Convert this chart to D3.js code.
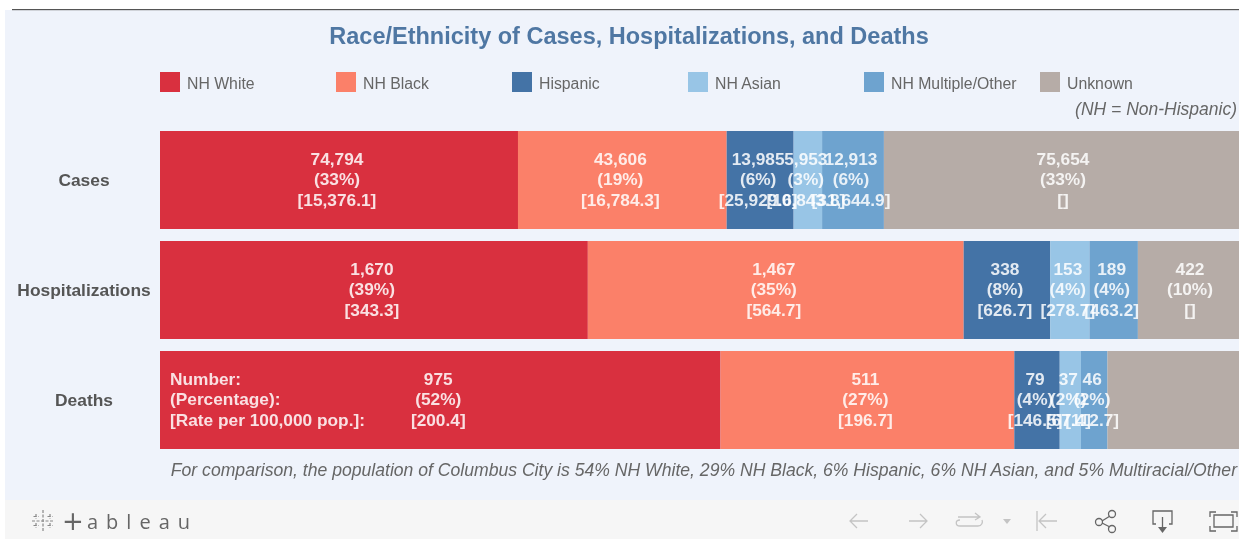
<!DOCTYPE html>
<html>
<head>
<meta charset="utf-8">
<script src="https://cdn.jsdelivr.net/npm/d3@7"></script>
<style>
html, body { margin: 0; padding: 0; background: #fff; }
svg { display: block; filter: blur(0.6px); }
text { font-family: "Liberation Sans", Arial, sans-serif; }
</style>
</head>
<body>
<div class="container"></div>
<script>
const WIDTH = 1239;
const HEIGHT = 539;

const groups = ["NH White", "NH Black", "Hispanic", "NH Asian", "NH Multiple/Other", "Unknown"];
const colours = ["#d9303f", "#fb8069", "#4473a6", "#98c5e6", "#6ea3cf", "#b6aca7"];
const rows = ["Cases", "Hospitalizations", "Deaths"];

const caseCounts = [74794, 43606, 13985, 5953, 12913, 75654];
const hospCounts = [1670, 1467, 338, 153, 189, 422];
const deathCounts = [975, 511, 79, 37, 46, 241];

const casePct = ["33%", "19%", "6%", "3%", "6%", "33%"];
const hospPct = ["39%", "35%", "8%", "4%", "4%", "10%"];
const deathPct = ["52%", "27%", "4%", "2%", "2%", null];

const caseRates = ["15,376.1", "16,784.3", "25,929.6", "10,843.8", "31,644.9", ""];
const hospRates = ["343.3", "564.7", "626.7", "278.7", "463.2", ""];
const deathRates = ["200.4", "196.7", "146.5", "67.4", "112.7", null];

const rowKeys = ["Number:", "(Percentage):", "[Rate per 100,000 pop.]:"];

const counts = [caseCounts, hospCounts, deathCounts];
const pcts = [casePct, hospPct, deathPct];
const rates = [caseRates, hospRates, deathRates];

var svg = d3.select('.container').append('svg')
    .attr('width', WIDTH)
    .attr('height', HEIGHT);

// panel + footer
svg.append('rect').attr('x', 5).attr('y', 10).attr('width', WIDTH).attr('height', 490).attr('fill', '#eff3fb');
svg.append('rect').attr('x', 5).attr('y', 500).attr('width', WIDTH).attr('height', 39).attr('fill', '#f6f6f6');
svg.append('rect').attr('x', 12).attr('y', 9).attr('width', WIDTH).attr('height', 1.2).attr('fill', '#555');

svg.append('text')
    .attr('x', 629).attr('y', 44)
    .attr('text-anchor', 'middle')
    .attr('font-size', 23.5).attr('font-weight', 'bold')
    .attr('fill', '#4f77a3')
    .text('Race/Ethnicity of Cases, Hospitalizations, and Deaths');

// legend
var legendScale = d3.scalePoint().domain(groups).range([160, 1040]);
var legend = svg.append('g').selectAll('g').data(groups).enter().append('g')
    .attr('transform', function(d) { return 'translate(' + legendScale(d) + ',72)'; });
legend.append('rect')
    .attr('width', 20).attr('height', 20)
    .attr('fill', function(d, i) { return colours[i]; });
legend.append('text')
    .attr('x', 27).attr('y', 17)
    .attr('font-size', 15.8).attr('fill', '#666')
    .text(function(d) { return d; });

svg.append('text')
    .attr('x', 1237).attr('y', 115)
    .attr('text-anchor', 'end')
    .attr('font-size', 17.5).attr('font-style', 'italic').attr('fill', '#666')
    .text('(NH = Non-Hispanic)');

// bars
var xScale = d3.scaleLinear().domain([0, 1]).range([160, 1246]);
var yScale = d3.scaleBand().domain(rows).range([131, 449]).paddingInner(12 / 110);

var table = rows.map(function(r, i) {
    var o = { row: r };
    groups.forEach(function(g, j) { o[g] = counts[i][j]; });
    return o;
});
var stacked = d3.stack().keys(groups).offset(d3.stackOffsetExpand)(table);

var layer = svg.append('g').selectAll('g').data(stacked).enter().append('g')
    .attr('fill', function(d, i) { return colours[i]; });
layer.selectAll('rect').data(function(d) { return d; }).enter().append('rect')
    .attr('x', function(d) { return xScale(d[0]); })
    .attr('width', function(d) { return xScale(d[1]) - xScale(d[0]); })
    .attr('y', function(d) { return yScale(d.data.row); })
    .attr('height', yScale.bandwidth());

// row labels
var yAxis = d3.axisLeft(yScale).tickSize(0);
var axisG = svg.append('g').attr('transform', 'translate(160,0)').call(yAxis);
axisG.select('.domain').remove();
axisG.selectAll('text')
    .attr('x', -76)
    .attr('text-anchor', 'middle')
    .attr('font-size', 17.4).attr('font-weight', 'bold')
    .attr('font-family', '"Liberation Sans", Arial, sans-serif')
    .attr('fill', '#555');

// segment labels, drawn after all bars because they overlap neighbours
var labels = svg.append('g').attr('fill', '#fff').attr('fill-opacity', 0.85)
    .attr('font-size', 17.3).attr('font-weight', 'bold').attr('text-anchor', 'middle');
stacked.forEach(function(series, j) {
    series.forEach(function(d, i) {
        if (pcts[i][j] === null) return;
        var cx = xScale((d[0] + d[1]) / 2) - 2;
        var cy = yScale(rows[i]) + yScale.bandwidth() / 2;
        var t = [d3.format(',')(counts[i][j]), '(' + pcts[i][j] + ')', '[' + rates[i][j] + ']'];
        t.forEach(function(s, k) {
            labels.append('text').attr('x', cx).attr('y', cy + (k - 1) * 20.5 + 5).text(s);
        });
    });
});

rowKeys.forEach(function(s, k) {
    labels.append('text')
        .attr('x', 170).attr('y', yScale('Deaths') + 49 + (k - 1) * 20.5 + 5)
        .attr('text-anchor', 'start')
        .text(s);
});

svg.append('text')
    .attr('x', 1237).attr('y', 476)
    .attr('text-anchor', 'end')
    .attr('font-size', 17.6).attr('font-style', 'italic').attr('fill', '#666')
    .text('For comparison, the population of Columbus City is 54% NH White, 29% NH Black, 6% Hispanic, 6% NH Asian, and 5% Multiracial/Other');

// tableau footer
var logo = svg.append('g').attr('transform', 'translate(43,521)')
    .attr('stroke', '#888').attr('stroke-width', 1.2).attr('stroke-dasharray', '3 1.5').attr('fill', 'none');
[[0, -11, 0, 11], [-11, 0, 11, 0], [-7, -7, -7, -2], [-9.5, -4.5, -4.5, -4.5], [7, -7, 7, -2], [4.5, -4.5, 9.5, -4.5],
 [-7, 2, -7, 7], [-9.5, 4.5, -4.5, 4.5], [7, 2, 7, 7], [4.5, 4.5, 9.5, 4.5]].forEach(function(l) {
    logo.append('line').attr('x1', l[0]).attr('y1', l[1]).attr('x2', l[2]).attr('y2', l[3]);
});
svg.append('text')
    .attr('x', 62).attr('y', 530)
    .attr('font-size', 26).attr('fill', '#666')
    .style('font-family', '"DejaVu Sans", sans-serif')
    .text('+');
svg.append('text')
    .attr('x', 87).attr('y', 529)
    .attr('font-size', 20).attr('fill', '#666').attr('letter-spacing', 8)
    .style('font-family', '"Open Sans", sans-serif')
    .text('ableau');

// toolbar icons
var icons = svg.append('g').attr('fill', 'none').attr('stroke-width', 1.3);
function icon(d, colour) {
    icons.append('path').attr('d', d).attr('stroke', colour);
}
var light = '#c4c4c4', dark = '#666';
icon('M868 521H850M857 514L850 521L857 528', light);
icon('M909 521H927M920 514L927 521L920 528', light);
icon('M958 517H980M975 513L980 517L975 520M960 520C955 520 955 526 960 526H978C982 526 983 522 982 520', light);
icon('M1037 511V531M1057 521H1039M1046 514L1039 521L1046 528', light);
icons.append('path').attr('d', 'M1003 519H1011L1007 524Z').attr('fill', light);
icon('M1102 521L1110 516M1102 523L1110 527', dark);
icons.append('circle').attr('cx', 1099).attr('cy', 522).attr('r', 3.5).attr('stroke', dark);
icons.append('circle').attr('cx', 1112).attr('cy', 514).attr('r', 3.5).attr('stroke', dark);
icons.append('circle').attr('cx', 1112).attr('cy', 529).attr('r', 3.5).attr('stroke', dark);
icon('M1156 524H1153V511H1172V524H1169M1162.500 517V529', dark);
icons.append('path').attr('d', 'M1158 527H1167L1162.500 533Z').attr('fill', dark);
icon('M1214 515H1233V527H1214Z', dark);
icon('M1210 517V512H1216M1231 512H1237V517M1210 526V531H1216M1231 531H1237V526', dark);
</script>
</body>
</html>
